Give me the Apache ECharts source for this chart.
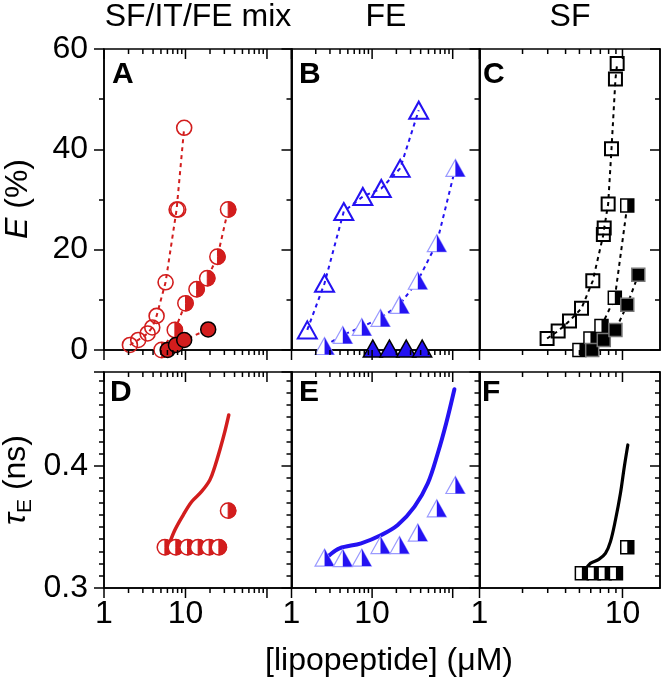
<!DOCTYPE html>
<html><head><meta charset="utf-8">
<script src="https://cdn.jsdelivr.net/npm/echarts@6/dist/echarts.min.js"></script>
<style>html,body{margin:0;padding:0;background:#fff}#c{width:668px;height:681px}</style>
</head><body><div id="c"></div>
<script>
// ---------- text ----------
const columnTitles = ['SF/IT/FE mix', 'FE', 'SF'];
const panelLetters = ['A', 'B', 'C', 'D', 'E', 'F'];
const xAxisTitle = '[lipopeptide] (\u03bcM)';
const eTickLabels = ['0', '20', '40', '60'];
const tauTickLabels = ['0.3', '0.4'];
const xTickLabels = ['1', '10'];
// ---------- tick values ----------
const xMajorAB = [1, 10, 100];
const xMinorAB = [2, 3, 4, 5, 6, 7, 8, 9, 20, 30, 40, 50, 60, 70, 80, 90];
const xMajorC = [1, 10];
const xMinorC = [2, 3, 4, 5, 6, 7, 8, 9];
const xMax = [200, 215, 18.3];
const eMin = 0, eMax = 60, eStep = 20;
const tMin = 0.3, tMax = 0.477, tStep = 0.1;

// ---------- panel A : SF/IT/FE mix, E (%) ----------
const aOpenX = [2.08, 2.63, 3.43, 3.91, 4.42, 5.7, 7.78, 8.14, 9.64];
const aOpenE = [1.0, 2.0, 3.3, 4.5, 6.8, 13.5, 28.0, 28.0, 44.3];
const aHalfX = [5.1, 7.41, 10.0, 13.7, 18.5, 24.7, 33.4];
const aHalfE = [0, 4.0, 9.3, 12.1, 14.3, 18.6, 28.0];
const aFillX = [6.04, 7.63, 9.64, 19.0];
const aFillE = [0, 1.0, 2.0, 4.1];
// ---------- panel B : FE ----------
const bOpenX = [1.57, 2.57, 4.45, 7.67, 13.0, 22.3, 37.9];
const bOpenE = [4.0, 13.3, 27.6, 30.6, 32.2, 36.2, 47.8];
const bHalfX = [2.57, 4.33, 7.45, 12.7, 21.9, 36.9, 63.5, 108];
const bHalfE = [0.8, 3.0, 4.6, 6.4, 9.0, 13.8, 21.3, 36.3];
const bFillX = [10.2, 16.4, 26.5, 41.8];
const bFillE = [0.3, 0.3, 0.3, 0.3];
// ---------- panel C : SF ----------
const cOpenX = [2.97, 3.55, 4.26, 5.17, 6.2, 7.35, 7.45, 7.94, 8.38, 8.93, 9.18];
const cOpenE = [2.3, 3.8, 5.8, 8.3, 13.8, 23.0, 24.3, 29.1, 40.1, 54.0, 57.1];
const cHalfX = [5.0, 5.97, 7.13, 8.84, 10.8];
const cHalfE = [0, 2.3, 4.8, 10.4, 28.8];
const cFillX = [6.14, 7.4, 8.93, 10.8, 12.9];
const cFillE = [0, 2.0, 4.0, 9.0, 15.0];
// ---------- panel D : tau_E (ns) ----------
const dHalfX = [5.59, 7.61, 10.6, 14.3, 19.5, 25.7, 33.4];
const dHalfT = [0.3334, 0.3334, 0.3334, 0.3334, 0.3334, 0.3334, 0.3634];
const dLineX = [6.26, 7.41, 9.37, 11.9, 15.7, 19.9, 22.9, 26.4, 30.4, 34.0];
const dLineT = [0.3352, 0.3475, 0.3598, 0.3707, 0.3789, 0.3885, 0.3994, 0.4131, 0.4281, 0.4418];
// ---------- panel E ----------
const eHalfX = [2.57, 4.33, 7.45, 12.7, 21.9, 36.9, 63.5, 108];
const eHalfT = [0.3249, 0.3245, 0.3249, 0.3352, 0.3352, 0.3454, 0.3653, 0.3844];
const eLineX = [2.57, 2.96, 3.94, 7.32, 13.0, 20.8, 33.6, 49.1, 65.3, 83, 105];
const eLineT = [0.323, 0.327, 0.3325, 0.3366, 0.3434, 0.3516, 0.3667, 0.3858, 0.4104, 0.435, 0.4629];
// ---------- panel F ----------
const fHalfX = [5.2, 6.3, 7.5, 9.0, 10.8];
const fHalfT = [0.312, 0.312, 0.312, 0.312, 0.3334];
const fLineX = [5.51, 5.97, 6.83, 7.6, 8.24, 8.93, 9.68, 10.3, 10.9];
const fLineT = [0.3148, 0.3202, 0.3235, 0.3284, 0.338, 0.3557, 0.3776, 0.3994, 0.4172];

// ---------- styles / layout ----------
const FONT = '"Liberation Sans", Arial, Helvetica, sans-serif';
const FS = 32;
const RED = '#d21d1d', BLUE = '#2412f2', LIGHTBLUE = '#9a9aff', BLACK = '#000';
const CLEAR = 'rgba(255,255,255,0)';
const gridBoxes = [
  {left: 104, top: 49, width: 187.5, height: 301},
  {left: 291.5, top: 49, width: 188, height: 301},
  {left: 479.5, top: 49, width: 180.5, height: 301},
  {left: 104, top: 372, width: 187.5, height: 216},
  {left: 291.5, top: 372, width: 188, height: 216},
  {left: 479.5, top: 372, width: 180.5, height: 216}
];

function pairs(xs, ys) { return xs.map((x, i) => [x, ys[i]]); }
const axisLine = {color: BLACK, width: 1.5};

const grid = gridBoxes.map(b => Object.assign({show: true, borderColor: BLACK, borderWidth: 1.5,
  backgroundColor: 'transparent', containLabel: false, outerBoundsMode: 'none'}, b));

const xAxis = gridBoxes.map((b, gi) => ({
  type: 'log', logBase: 10, gridIndex: gi, position: 'bottom',
  min: 1, max: xMax[gi % 3],
  axisLine: {show: true, onZero: false, lineStyle: axisLine},
  axisTick: {show: false}, minorTick: {show: false},
  splitLine: {show: false}, minorSplitLine: {show: false},
  axisLabel: {show: gi >= 3, margin: 10, color: BLACK, fontSize: FS, fontFamily: FONT,
    formatter: v => { const s = String(Math.round(v * 1000) / 1000); return xTickLabels.includes(s) ? s : ''; }}
}));

const yAxis = [];
gridBoxes.forEach((b, gi) => {
  const top = gi < 3;
  const base = {
    type: 'value', gridIndex: gi,
    min: top ? eMin : tMin, max: top ? eMax : tMax, interval: top ? eStep : tStep,
    splitLine: {show: false}, minorSplitLine: {show: false}
  };
  const fmt = top
    ? (v => { const s = String(Math.round(v)); return (Math.abs(v - Math.round(v)) < 1e-6 && eTickLabels.includes(s)) ? s : ''; })
    : (v => { const t = tauTickLabels.find(t => Math.abs(parseFloat(t) - v) < 1e-6); return t || ''; });
  yAxis.push(Object.assign({}, base, {
    position: 'left',
    axisLine: {show: true, onZero: false, lineStyle: axisLine},
    axisTick: {show: true, inside: false, length: 10, lineStyle: axisLine},
    minorTick: {show: true, splitNumber: top ? 2 : 10, length: 5, lineStyle: axisLine},
    axisLabel: {show: gi === 0 || gi === 3, margin: 16, color: BLACK, fontSize: FS, fontFamily: FONT, formatter: fmt}
  }));
  yAxis.push(Object.assign({}, base, {
    position: 'right',
    axisLine: {show: true, onZero: false, lineStyle: axisLine},
    axisTick: {show: true, inside: true, length: 10, lineStyle: axisLine},
    minorTick: {show: true, splitNumber: top ? 2 : 10, length: 5, lineStyle: axisLine},
    axisLabel: {show: false}
  }));
});

function tickSeries(gi, majors, minors, yLo, yHi) {
  const data = majors.map(v => [v, yLo, 1]).concat(minors.map(v => [v, yLo, 0]));
  return {
    type: 'custom', xAxisIndex: gi, yAxisIndex: 2 * gi, data, encode: {x: 0, y: 1},
    clip: false, silent: true, z: 6, animation: false,
    renderItem(params, api) {
      const v = api.value(0);
      const len = api.value(2) === 1 ? 10 : 5;
      const b = api.coord([v, yLo]);
      const t = api.coord([v, yHi]);
      return {type: 'group', children: [
        {type: 'line', shape: {x1: b[0], y1: b[1], x2: b[0], y2: b[1] + len}, style: {stroke: BLACK, lineWidth: 1.5}},
        {type: 'line', shape: {x1: t[0], y1: t[1], x2: t[0], y2: t[1] + len}, style: {stroke: BLACK, lineWidth: 1.5}}
      ]};
    }
  };
}

function dotted(gi, xs, ys, color) {
  return {type: 'line', xAxisIndex: gi, yAxisIndex: 2 * gi, data: pairs(xs, ys),
    showSymbol: false, symbol: 'none', clip: false, silent: true, z: 2, animation: false,
    lineStyle: {color, width: 2, type: [4, 4]}};
}
function curve(gi, xs, ys, color, w) {
  return {type: 'line', xAxisIndex: gi, yAxisIndex: 2 * gi, data: pairs(xs, ys),
    showSymbol: false, symbol: 'none', clip: false, silent: true, z: 2, animation: false, smooth: 0.35,
    lineStyle: {color, width: w, cap: 'round', join: 'round'}};
}
function scat(gi, xs, ys, symbol, size, fill, stroke, bw) {
  return {type: 'scatter', xAxisIndex: gi, yAxisIndex: 2 * gi, data: pairs(xs, ys),
    symbol, symbolSize: size, clip: false, silent: true, z: 3, animation: false,
    itemStyle: {color: fill, borderColor: stroke, borderWidth: bw, opacity: 1}};
}
function half(gi, xs, ys, kind, color) {
  return {
    type: 'custom', xAxisIndex: gi, yAxisIndex: 2 * gi, data: pairs(xs, ys), encode: {x: 0, y: 1},
    clip: false, silent: true, z: 3, animation: false,
    renderItem(params, api) {
      const p = api.coord([api.value(0), api.value(1)]);
      const cx = p[0], cy = p[1];
      if (kind === 'circle') {
        const r = 7.7;
        return {type: 'group', children: [
          {type: 'circle', shape: {cx, cy, r}, style: {fill: '#fff', stroke: color, lineWidth: 1.5}},
          {type: 'sector', shape: {cx, cy, r0: 0, r, startAngle: -Math.PI / 2, endAngle: Math.PI / 2, clockwise: true},
            style: {fill: color, stroke: color, lineWidth: 1}}
        ]};
      }
      if (kind === 'tri') {
        const w = 19, h = 17;
        return {type: 'group', children: [
          {type: 'polygon', shape: {points: [[cx, cy - h / 2], [cx + w / 2, cy + h / 2], [cx - w / 2, cy + h / 2]]},
            style: {fill: '#fff', stroke: LIGHTBLUE, lineWidth: 1.2}},
          {type: 'polygon', shape: {points: [[cx, cy - h / 2], [cx + w / 2, cy + h / 2], [cx, cy + h / 2]]},
            style: {fill: color}}
        ]};
      }
      const s = 13;
      return {type: 'group', children: [
        {type: 'rect', shape: {x: cx - s / 2, y: cy - s / 2, width: s, height: s},
          style: {fill: '#fff', stroke: BLACK, lineWidth: 1.5}},
        {type: 'rect', shape: {x: cx, y: cy - s / 2, width: s / 2, height: s}, style: {fill: color}}
      ]};
    }
  };
}

const series = [
  // dotted connectors
  dotted(0, aOpenX, aOpenE, RED), dotted(0, aHalfX, aHalfE, RED), dotted(0, aFillX, aFillE, RED),
  dotted(1, bOpenX, bOpenE, BLUE), dotted(1, bHalfX, bHalfE, BLUE),
  dotted(2, cOpenX, cOpenE, BLACK), dotted(2, cHalfX, cHalfE, BLACK), dotted(2, cFillX, cFillE, BLACK),
  // fitted curves
  curve(3, dLineX, dLineT, RED, 3.5), curve(4, eLineX, eLineT, BLUE, 4), curve(5, fLineX, fLineT, BLACK, 3.2),
  // markers
  scat(0, aOpenX, aOpenE, 'circle', 15, CLEAR, RED, 1.6),
  half(0, aHalfX, aHalfE, 'circle', RED),
  scat(0, aFillX, aFillE, 'circle', 15, RED, BLACK, 1.5),
  scat(1, bOpenX, bOpenE, 'triangle', [19, 17], CLEAR, BLUE, 2),
  half(1, bHalfX, bHalfE, 'tri', BLUE),
  scat(1, bFillX, bFillE, 'triangle', [19, 17], BLUE, BLACK, 1.5),
  scat(2, cOpenX, cOpenE, 'rect', 13, CLEAR, BLACK, 2),
  half(2, cHalfX, cHalfE, 'square', BLACK),
  scat(2, cFillX, cFillE, 'rect', 13, BLACK, '#777', 1.5),
  half(3, dHalfX, dHalfT, 'circle', RED),
  half(4, eHalfX, eHalfT, 'tri', BLUE),
  half(5, fHalfX, fHalfT, 'square', BLACK),
  // x ticks (log minor ticks)
  tickSeries(0, xMajorAB, xMinorAB, eMin, eMax), tickSeries(1, xMajorAB, xMinorAB, eMin, eMax),
  tickSeries(2, xMajorC, xMinorC, eMin, eMax),
  tickSeries(3, xMajorAB, xMinorAB, tMin, tMax), tickSeries(4, xMajorAB, xMinorAB, tMin, tMax),
  tickSeries(5, xMajorC, xMinorC, tMin, tMax)
];

// ---------- text graphics ----------
const mctx = document.createElement('canvas').getContext('2d');
function tw(txt, font) { mctx.font = font; return mctx.measureText(txt).width; }
const txtStyle = (text, size, extra) => Object.assign({text, fill: BLACK, fontSize: size, fontFamily: FONT}, extra || {});

const graphic = [];
const titleX = [198, 386, 570];
columnTitles.forEach((t, i) => graphic.push({type: 'text', x: titleX[i], y: 17,
  style: txtStyle(t, FS, {align: 'center', verticalAlign: 'middle'})}));
const letterPos = [[112, 75], [299, 75], [483, 75], [110, 393], [299, 393], [482, 393]];
panelLetters.forEach((t, i) => graphic.push({type: 'text', x: letterPos[i][0], y: letterPos[i][1],
  style: txtStyle(t, 30, {fontWeight: 'bold', align: 'left', verticalAlign: 'middle'})}));
graphic.push({type: 'text', x: 389, y: 661, style: txtStyle(xAxisTitle, FS, {align: 'center', verticalAlign: 'middle'})});

// E (%) rotated
(function () {
  const w1 = tw('E', 'italic ' + FS + 'px ' + FONT), w2 = tw(' (%)', FS + 'px ' + FONT);
  const x0 = -(w1 + w2) / 2;
  graphic.push({type: 'group', x: 18, y: 199, rotation: Math.PI / 2, children: [
    {type: 'text', x: x0, y: 0, style: txtStyle('E', FS, {fontStyle: 'italic', align: 'left', verticalAlign: 'middle'})},
    {type: 'text', x: x0 + w1, y: 0, style: txtStyle(' (%)', FS, {align: 'left', verticalAlign: 'middle'})}
  ]});
})();
// tau_E (ns) rotated
(function () {
  const sub = 21;
  const w1 = tw('\u03c4', 'italic ' + FS + 'px ' + FONT), w2 = tw('E', sub + 'px ' + FONT), w3 = tw(' (ns)', FS + 'px ' + FONT);
  const x0 = -(w1 + w2 + w3) / 2;
  graphic.push({type: 'group', x: 16, y: 480, rotation: Math.PI / 2, children: [
    {type: 'text', x: x0, y: 0, style: txtStyle('\u03c4', FS, {fontStyle: 'italic', align: 'left', verticalAlign: 'middle'})},
    {type: 'text', x: x0 + w1, y: 9, style: txtStyle('E', sub, {align: 'left', verticalAlign: 'middle'})},
    {type: 'text', x: x0 + w1 + w2, y: 0, style: txtStyle(' (ns)', FS, {align: 'left', verticalAlign: 'middle'})}
  ]});
})();

const chart = echarts.init(document.getElementById('c'), null, {renderer: 'canvas'});
chart.setOption({animation: false, backgroundColor: '#fff', grid, xAxis, yAxis, series, graphic});
</script>
</body></html>
